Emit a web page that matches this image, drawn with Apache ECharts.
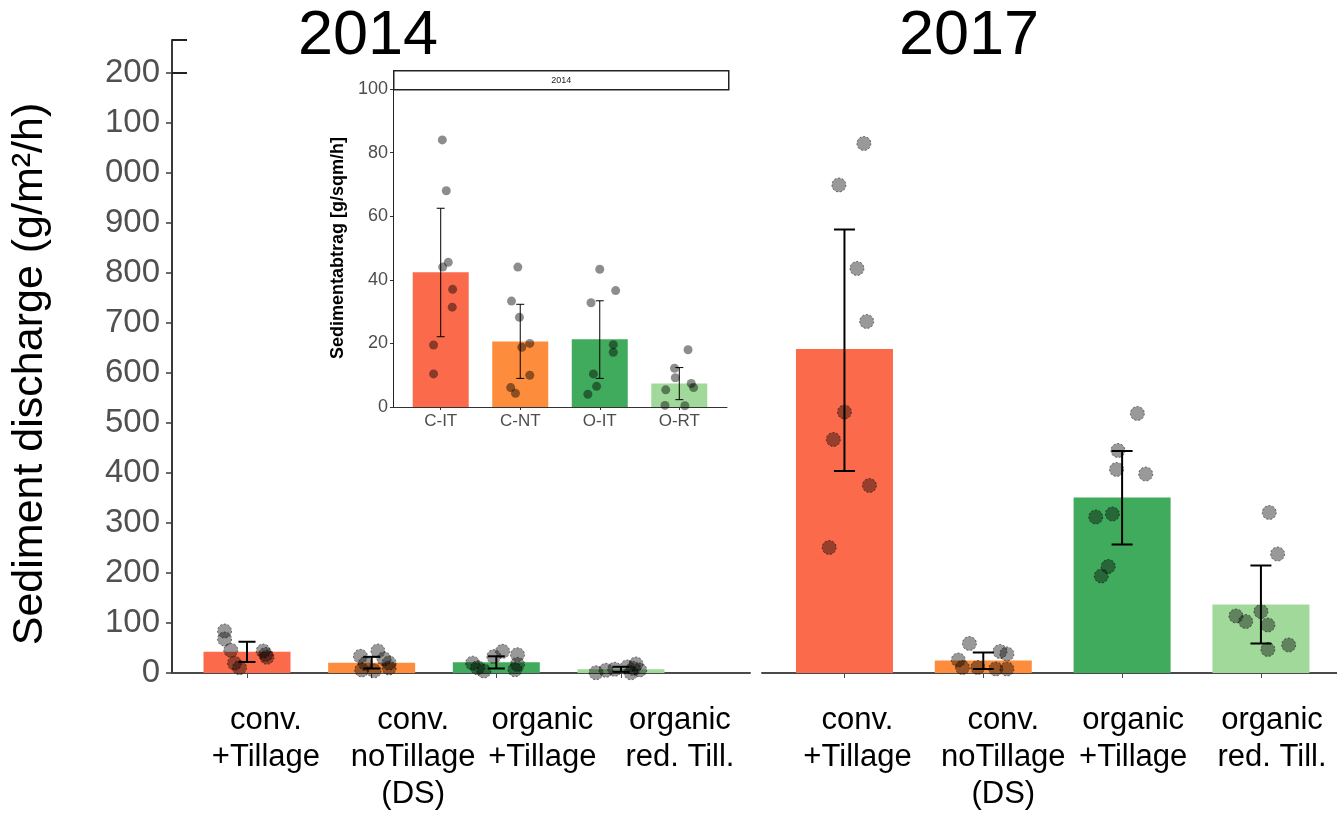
<!DOCTYPE html>
<html>
<head>
<meta charset="utf-8">
<script src="https://cdn.jsdelivr.net/npm/echarts@6/dist/echarts.min.js"></script>
<style>
html,body{margin:0;padding:0;background:#fff;}
#chart{width:1337px;height:813px;}
</style>
</head>
<body>
<div id="chart"></div>
<script>
// ---------------- data ----------------
const mainCategories = ['conv.\n+Tillage', 'conv.\nnoTillage\n(DS)', 'organic\n+Tillage', 'organic\nred. Till.'];
const insetCategories = ['C-IT', 'C-NT', 'O-IT', 'O-RT'];
const panelTitles = ['2014', '2017'];
const insetStrip = '2014';
const yTickValues = [0, 100, 200, 300, 400, 500, 600, 700, 800, 900, 1000, 1100, 1200];
const yTickLabels = ['0', '100', '200', '300', '400', '500', '600', '700', '800', '900', '000', '100', '200'];
const barColors = ['#FB6A4A', '#FD8D3C', '#41AB5D', '#A1D99B'];

const mean2014 = [42.4, 20.6, 21.3, 7.4];
const errLow2014 = [22.1, 9.0, 9.0, 2.3];
const errHigh2014 = [62.5, 32.3, 33.4, 12.4];
const points2014 = [
  [84, 68, 45.5, 44, 37, 31.4, 19.5, 10.4],
  [44, 33.3, 28.2, 20, 18.8, 10, 6.1, 4.3],
  [43.3, 36.6, 32.8, 19.6, 17.2, 10.4, 6.5, 4.0],
  [18, 12.2, 9.2, 7.4, 6.1, 5.4, 0.5, 0.4]
];
const jitterInset2014 = [
  [0.02, 0.07, 0.095, 0.025, 0.15, 0.145, -0.09, -0.09],
  [-0.03, -0.11, -0.01, 0.12, 0.02, 0.12, -0.12, -0.06],
  [0, 0.2, -0.11, 0.17, 0.17, -0.08, -0.04, -0.15],
  [0.11, -0.06, -0.05, 0.15, 0.18, -0.17, -0.18, 0.07]
];
const jitterMain2014 = [
  [-0.18, -0.18, -0.13, 0.13, 0.15, 0.16, -0.1, -0.06],
  [0.05, -0.09, 0.1, 0.14, -0.05, 0.14, -0.08, 0.02],
  [0.05, 0.17, -0.02, -0.19, 0.17, -0.15, 0.15, -0.1],
  [0.12, 0.05, 0.1, -0.05, 0.15, -0.12, -0.2, 0.08]
];

const mean2017 = [648, 25, 351, 137];
const errLow2017 = [404, 8, 257, 59];
const errHigh2017 = [887, 41, 444, 215];
const points2017 = [
  [1059, 976, 809, 703, 522, 467, 375, 251],
  [59, 43, 38, 26, 11, 11, 8, 8],
  [519, 445, 407, 398, 318, 312, 213, 194],
  [321, 238, 123, 114, 103, 96, 56, 47]
];
const jitter2017 = [
  [0.14, -0.04, 0.09, 0.16, 0, -0.08, 0.18, -0.11],
  [-0.10, 0.12, 0.17, -0.18, -0.15, -0.04, 0.09, 0.17],
  [0.11, -0.03, -0.04, 0.17, -0.07, -0.19, -0.10, -0.15],
  [0.06, 0.12, 0, -0.18, -0.11, 0.05, 0.20, 0.05]
];

// ---------------- layout / helpers ----------------
const FONT = 'Liberation Sans, Arial, sans-serif';
// category labels sit slightly right of their ticks in the original (in category units)
const labelShift2014 = [0.152, 0.333, 0.369, 0.473];
const labelShift2017 = [0.094, 0.144, 0.08, 0.08];

function barData(means) {
  return means.map((v, i) => ({ value: [i, v], itemStyle: { color: barColors[i] } }));
}
function errData(lo, hi) {
  return lo.map((l, i) => [i, l, hi[i]]);
}
function pointData(pts, jit) {
  const out = [];
  pts.forEach((arr, i) => arr.forEach((v, k) => out.push([i + jit[i][k], v])));
  return out;
}
function errSeries(xi, yi, lo, hi, halfCap, lw) {
  return {
    type: 'custom', xAxisIndex: xi, yAxisIndex: yi,
    data: errData(lo, hi),
    encode: { x: 0, y: [1, 2] },
    renderItem: function (params, api) {
      const x = api.value(0);
      const pl = api.coord([x, api.value(1)]);
      const ph = api.coord([x, api.value(2)]);
      const st = { stroke: '#000', lineWidth: lw };
      return {
        type: 'group', children: [
          { type: 'line', shape: { x1: pl[0], y1: pl[1], x2: ph[0], y2: ph[1] }, style: st },
          { type: 'line', shape: { x1: ph[0] - halfCap, y1: ph[1], x2: ph[0] + halfCap, y2: ph[1] }, style: st },
          { type: 'line', shape: { x1: pl[0] - halfCap, y1: pl[1], x2: pl[0] + halfCap, y2: pl[1] }, style: st }
        ]
      };
    },
    z: 3
  };
}
const mainPointStyle = {
  color: 'rgba(0,0,0,0.5)', borderColor: 'rgba(0,0,0,0.65)', borderWidth: 1, borderType: [2, 2]
};
function mainXAxis(gi, min, max, shifts) {
  return {
    type: 'value', gridIndex: gi, min: min, max: max,
    splitLine: { show: false },
    axisLine: { show: true, onZero: false, lineStyle: { color: '#4a4a4a', width: 2 } },
    axisTick: { show: true, length: 5, customValues: [0, 1, 2, 3], lineStyle: { color: '#4a4a4a', width: 1 } },
    axisLabel: {
      show: true, customValues: shifts.map((s, i) => i + s), margin: 29,
      formatter: v => mainCategories[Math.round(v)],
      color: '#000', fontFamily: FONT, fontSize: 31, lineHeight: 37
    }
  };
}

const option = {
  animation: false,
  backgroundColor: '#fff',
  title: [
    { text: panelTitles[0], left: 363, top: 0, textAlign: 'center', textStyle: { fontFamily: FONT, fontSize: 63, fontWeight: 'normal', color: '#000' } },
    { text: panelTitles[1], left: 964, top: 0, textAlign: 'center', textStyle: { fontFamily: FONT, fontSize: 63, fontWeight: 'normal', color: '#000' } }
  ],
  grid: [
    { left: 172, top: 40, width: 578, height: 633 },
    { left: 762, top: 40, width: 575, height: 633 },
    { left: 393, top: 89, width: 334, height: 318 }
  ],
  xAxis: [
    mainXAxis(0, -0.6016, 4.035, labelShift2014),
    mainXAxis(1, -0.594, 3.548, labelShift2017),
    {
      type: 'value', gridIndex: 2, min: -0.6, max: 3.6,
      splitLine: { show: false },
      axisLine: { show: true, onZero: false, lineStyle: { color: '#333', width: 1 } },
      axisTick: { show: true, length: 3, customValues: [0, 1, 2, 3], lineStyle: { color: '#333' } },
      axisLabel: {
        show: true, customValues: [0, 1, 2, 3], margin: 6,
        formatter: v => insetCategories[Math.round(v)],
        color: '#4d4d4d', fontFamily: FONT, fontSize: 17
      }
    }
  ],
  yAxis: [
    {
      type: 'value', gridIndex: 0, min: 0, max: 1266,
      name: 'Sediment discharge (g/m²/h)', nameLocation: 'middle', nameGap: 120, nameRotate: 90,
      nameTextStyle: { fontFamily: FONT, fontSize: 43, color: '#000', padding: [0, 35, 0, 0] },
      splitLine: { show: false },
      axisLine: { show: true, onZero: false, lineStyle: { color: '#3a3a3a', width: 2 } },
      axisTick: { show: true, length: 6, customValues: yTickValues, lineStyle: { color: '#3a3a3a', width: 1.5 } },
      axisLabel: {
        show: true, customValues: yTickValues, margin: 12,
        formatter: v => yTickLabels[yTickValues.indexOf(v)],
        color: '#505050', fontFamily: FONT, fontSize: 33
      }
    },
    {
      type: 'value', gridIndex: 0, min: 0, max: 1266, position: 'left',
      splitLine: { show: false },
      axisLine: { show: false, onZero: false },
      axisLabel: { show: false },
      axisTick: { show: true, inside: true, length: 15, customValues: [1200, 1266], lineStyle: { color: '#222', width: 2 } }
    },
    { type: 'value', gridIndex: 1, min: 0, max: 1266, show: false, axisLine: { onZero: false } },
    {
      type: 'value', gridIndex: 2, min: 0, max: 100, interval: 20,
      name: 'Sedimentabtrag [g/sqm/h]', nameLocation: 'middle', nameGap: 46, nameRotate: 90,
      nameTextStyle: { fontFamily: FONT, fontSize: 18, fontWeight: 'bold', color: '#000' },
      splitLine: { show: false },
      axisLine: { show: true, onZero: false, lineStyle: { color: '#222', width: 1 } },
      axisTick: { show: true, length: 3, lineStyle: { color: '#333' } },
      axisLabel: { show: true, margin: 5, color: '#4d4d4d', fontFamily: FONT, fontSize: 18 }
    }
  ],
  graphic: [
    {
      type: 'group', left: 393, top: 70, children: [
        { type: 'rect', shape: { x: 0, y: 0, width: 335, height: 19 }, style: { fill: '#fff', stroke: '#222', lineWidth: 1.5 } },
        { type: 'text', x: 167.5, y: 10, style: { text: insetStrip, fontFamily: FONT, fontSize: 9, fill: '#222', align: 'center', verticalAlign: 'middle' } }
      ]
    }
  ],
  series: [
    // main 2014
    { type: 'bar', xAxisIndex: 0, yAxisIndex: 0, barWidth: 87, data: barData(mean2014), z: 2 },
    errSeries(0, 0, errLow2014, errHigh2014, 8.5, 2),
    { type: 'scatter', xAxisIndex: 0, yAxisIndex: 0, symbolSize: 14, data: pointData(points2014, jitterMain2014), itemStyle: mainPointStyle, z: 4 },
    // main 2017
    { type: 'bar', xAxisIndex: 1, yAxisIndex: 2, barWidth: 97, data: barData(mean2017), z: 2 },
    errSeries(1, 2, errLow2017, errHigh2017, 10.5, 2),
    { type: 'scatter', xAxisIndex: 1, yAxisIndex: 2, symbolSize: 14, data: pointData(points2017, jitter2017), itemStyle: mainPointStyle, z: 4 },
    // inset 2014
    { type: 'bar', xAxisIndex: 2, yAxisIndex: 3, barWidth: 56, data: barData(mean2014), z: 2 },
    errSeries(2, 3, errLow2014, errHigh2014, 4, 1),
    { type: 'scatter', xAxisIndex: 2, yAxisIndex: 3, symbolSize: 9, data: pointData(points2014, jitterInset2014), itemStyle: { color: 'rgba(0,0,0,0.56)' }, z: 4 }
  ]
};

const chart = echarts.init(document.getElementById('chart'), null, { renderer: 'canvas' });
chart.setOption(option);
</script>
</body>
</html>
